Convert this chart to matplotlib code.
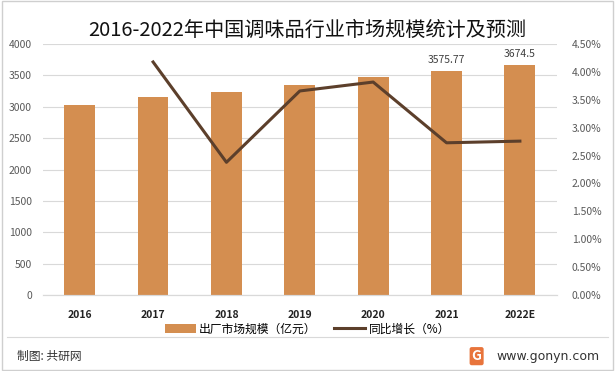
import numpy as np
import matplotlib.pyplot as plt
from matplotlib.ticker import FuncFormatter

plt.rcParams['font.family'] = ['Noto Sans CJK SC', 'DejaVu Sans']

years = ['2016', '2017', '2018', '2019', '2020', '2021', '2022E']
scale = [3032, 3159, 3234, 3353, 3481, 3575.77, 3674.5]
growth = [None, 4.18, 2.38, 3.66, 3.82, 2.73, 2.76]
labelled = {5: '3575.77', 6: '3674.5'}

fig = plt.figure(figsize=(6.15, 3.71), dpi=100)
ax = fig.add_axes([0.07, 0.205, 0.835, 0.676])
ax2 = ax.twinx()

x = np.arange(len(years))
ax.bar(x, scale, width=0.42, color='#D48E50', zorder=2, label='出厂市场规模（亿元）')
for i, t in labelled.items():
    ax.text(x[i], scale[i] + 90, t, ha='center', va='bottom', fontsize=7.5, color='#404040')

gx = [i for i, g in enumerate(growth) if g is not None]
gy = [growth[i] for i in gx]
ax2.plot(gx, gy, color='#5C3F2B', lw=2.2, zorder=3, label='同比增长（%）')

ax.set_xlim(-0.5, len(years) - 0.5)
ax.set_ylim(0, 4000)
ax.set_yticks(np.arange(0, 4001, 500))
ax2.set_ylim(0, 4.5)
ax2.set_yticks(np.arange(0, 4.51, 0.5))
ax2.yaxis.set_major_formatter(FuncFormatter(lambda v, p: f'{v:.2f}%'))
ax.set_xticks(x)
ax.set_xticklabels(years, fontsize=7.5, fontweight='bold', color='#222222')
ax.grid(axis='y', color='#D9D9D9', lw=0.8, zorder=0)
for a in (ax, ax2):
    for s in ['top', 'left', 'right']:
        a.spines[s].set_visible(False)
    a.spines['bottom'].set_color('#D9D9D9')
    a.tick_params(length=0, labelsize=7.5, colors='#595959')
ax.tick_params(axis='x', colors='#222222', pad=11)
ax.tick_params(axis='y', pad=8)
ax2.tick_params(axis='y', pad=11)
ax2.set_zorder(ax.get_zorder() + 1)
ax2.patch.set_visible(False)

fig.text(0.5, 0.918, '2016-2022年中国调味品行业市场规模统计及预测', ha='center', va='center',
         fontsize=14.5, color='#111111')

h1, l1 = ax.get_legend_handles_labels()
h2, l2 = ax2.get_legend_handles_labels()
fig.legend(h1 + h2, l1 + l2, loc='center', bbox_to_anchor=(0.5, 0.113), ncol=2, frameon=False,
           fontsize=8.5, handlelength=2.6, columnspacing=1.5, handletextpad=0.3)

fig.add_artist(plt.Line2D([0.012, 0.988], [0.092, 0.092], color='#D9D9D9', lw=0.8))
fig.text(0.028, 0.04, '制图: 共研网', fontsize=8.5, color='#333333', va='center')
fig.text(0.975, 0.04, 'www.gonyn.com', fontsize=9, color='#333333', va='center', ha='right',
         family=['DejaVu Sans'])
fig.text(0.775, 0.04, 'G', fontsize=10, color='white', va='center', ha='center', fontweight='bold',
         bbox=dict(boxstyle='round,pad=0.15', fc='#E8743B', ec='none'))
fig.add_artist(plt.Rectangle((0.003, 0.003), 0.994, 0.994, fill=False, ec='#CFCFCF', lw=1,
                             transform=fig.transFigure))

fig.savefig('out.png', dpi=100)
